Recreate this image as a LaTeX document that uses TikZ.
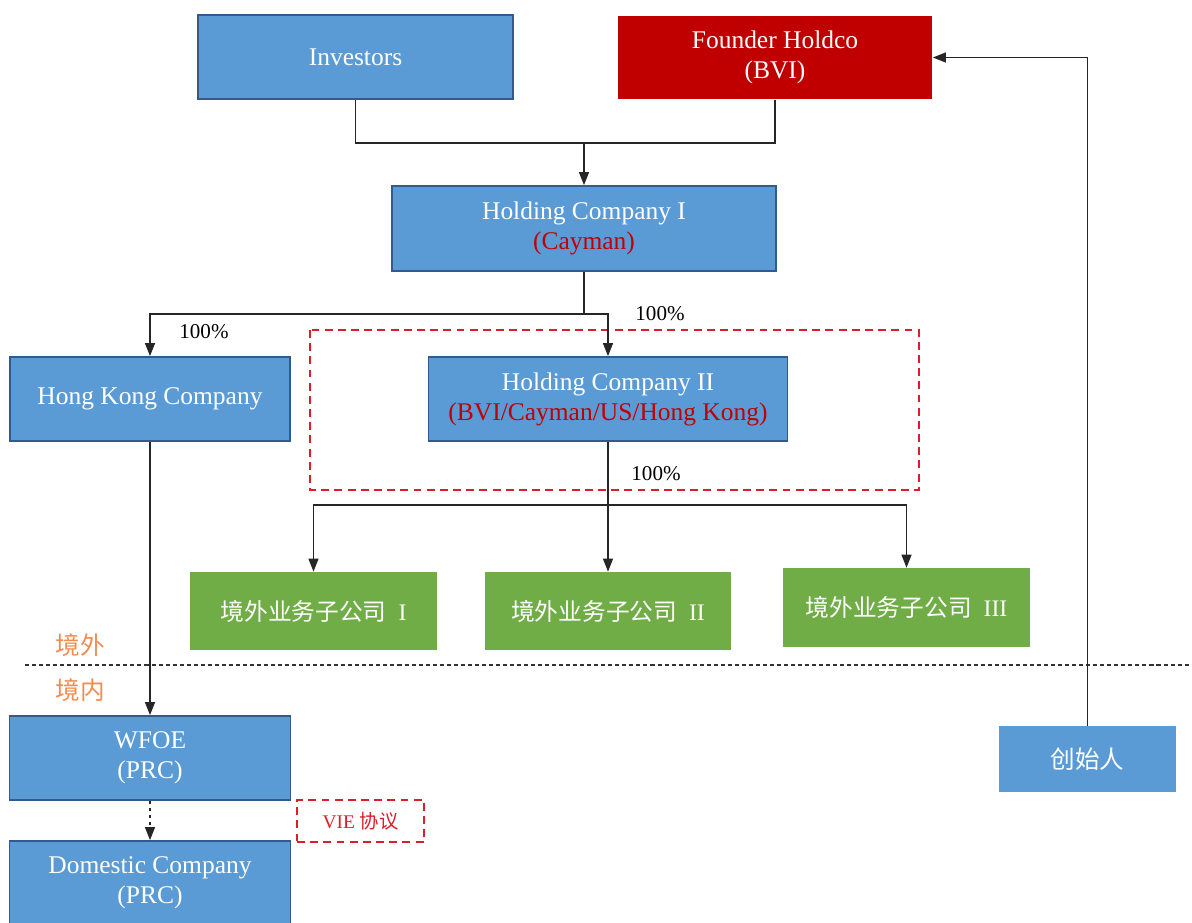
\documentclass[tikz,border=0pt]{standalone}
\usepackage{fontspec}
\setmainfont{Liberation Serif}
\newfontfamily\cjk{Noto Sans CJK SC}
\usetikzlibrary{arrows.meta, positioning}
\definecolor{boxblue}{RGB}{91,155,213}
\definecolor{edgeblue}{RGB}{50,90,140}
\definecolor{darkred}{RGB}{192,0,0}
\definecolor{boxgreen}{RGB}{112,173,71}
\definecolor{labelorange}{RGB}{240,140,80}
\definecolor{dashred}{RGB}{220,30,40}

\tikzset{
  bluebox/.style={draw=edgeblue, line width=1pt, fill=boxblue, text=white, align=center,
    minimum width=#1, minimum height=1.68cm, inner sep=2pt, font=\fontsize{14.5}{17}\selectfont},
  bluebox/.default=5.6cm,
  greenbox/.style={fill=boxgreen, text=white, minimum width=4.94cm, minimum height=1.56cm,
    inner sep=2pt, font=\fontsize{13.5}{16}\selectfont},
  pct/.style={font=\fontsize{12}{14}\selectfont, inner sep=1pt},
  link/.style={line width=0.7pt, draw=black!85},
  arr/.style={link, -{Triangle[length=0.26cm,width=0.2cm]}},
}

\begin{document}
\begin{tikzpicture}[x=0.02cm, y=-0.02cm]
    \useasboundingbox (0,0) rectangle (1192,922);

    % top row
    \node[bluebox=6.3cm] (inv) at (355.5,57) {Investors};
    \node[bluebox=6.28cm, draw=none, fill=darkred, minimum height=1.66cm] (fh) at (775,57.5) {Founder Holdco\\(BVI)};
    \node[bluebox=7.68cm, minimum height=1.7cm] (hc1) at (584,228.5) {Holding Company I\\\textcolor{darkred}{(Cayman)}};

    % second level
    \draw[dashred, line width=1.1pt, dash pattern=on 4.5pt off 3pt] (310,330) rectangle (919,490);
    \node[bluebox=5.6cm] (hk) at (150,399) {Hong Kong Company};
    \node[bluebox=7.18cm] (hc2) at (608,399) {Holding Company II\\\textcolor{darkred}{(BVI/Cayman/US/Hong Kong)}};

    \node[pct] (p1) at (204,332) {100\%};
    \node[pct] (p2) at (660,314) {100\%};
    \node[pct] (p3) at (656,474) {100\%};

    % offshore subsidiaries
    \node[greenbox] (g1) at (313.5,611) {{\cjk 境外业务子公司}\enspace I};
    \node[greenbox] (g2) at (608,611) {{\cjk 境外业务子公司}\enspace II};
    \node[greenbox, minimum height=1.58cm] (g3) at (906.5,607.5) {{\cjk 境外业务子公司}\enspace III};

    % border line
    \draw[black!80, line width=0.9pt, dash pattern=on 2.3pt off 1.7pt] (25,665) -- (1192,665);
    \node[text=labelorange, font=\cjk\fontsize{14}{16}\selectfont] (out) at (80,645) {境外};
    \node[text=labelorange, font=\cjk\fontsize{14}{16}\selectfont] (in) at (80,690) {境内};

    % onshore
    \node[bluebox=5.62cm] (wfoe) at (150,758) {WFOE\\(PRC)};
    \node[bluebox=5.62cm] (dom) at (150,883) {Domestic Company\\(PRC)};
    \node[draw=dashred, line width=1.1pt, dash pattern=on 4.5pt off 3pt, text=dashred,
      minimum width=2.54cm, minimum height=0.84cm, font=\fontsize{11}{13}\selectfont] (vie) at (360.5,821) {VIE {\cjk 协议}};
    \node[fill=boxblue, text=white, minimum width=3.54cm, minimum height=1.32cm,
      font=\cjk\fontsize{14}{16}\selectfont] (cs) at (1087.5,759) {创始人};

    % connectors
    \coordinate (j1) at (584,143);
    \coordinate (j2) at (584,314);
    \coordinate (j3) at (608,505);
    \draw[link] (inv.south) |- (j1);
    \draw[link] (fh.south) |- (j1);
    \draw[arr] (j1) -- (hc1.north);
    \draw[link] (hc1.south) -- (j2);
    \draw[arr] (j2) -| (hk.north);
    \draw[arr] (j2) -| (hc2.north);
    \draw[link] (hc2.south) -- (j3);
    \draw[arr] (j3) -| (g1.north);
    \draw[arr] (j3) -- (g2.north);
    \draw[arr] (j3) -| (g3.north);
    \draw[arr] (hk.south) -- (wfoe.north);
    \draw[arr, dash pattern=on 2pt off 2pt] (wfoe.south) -- (dom.north);
    \draw[arr] (cs.north) |- (fh.east);
\end{tikzpicture}
\end{document}
